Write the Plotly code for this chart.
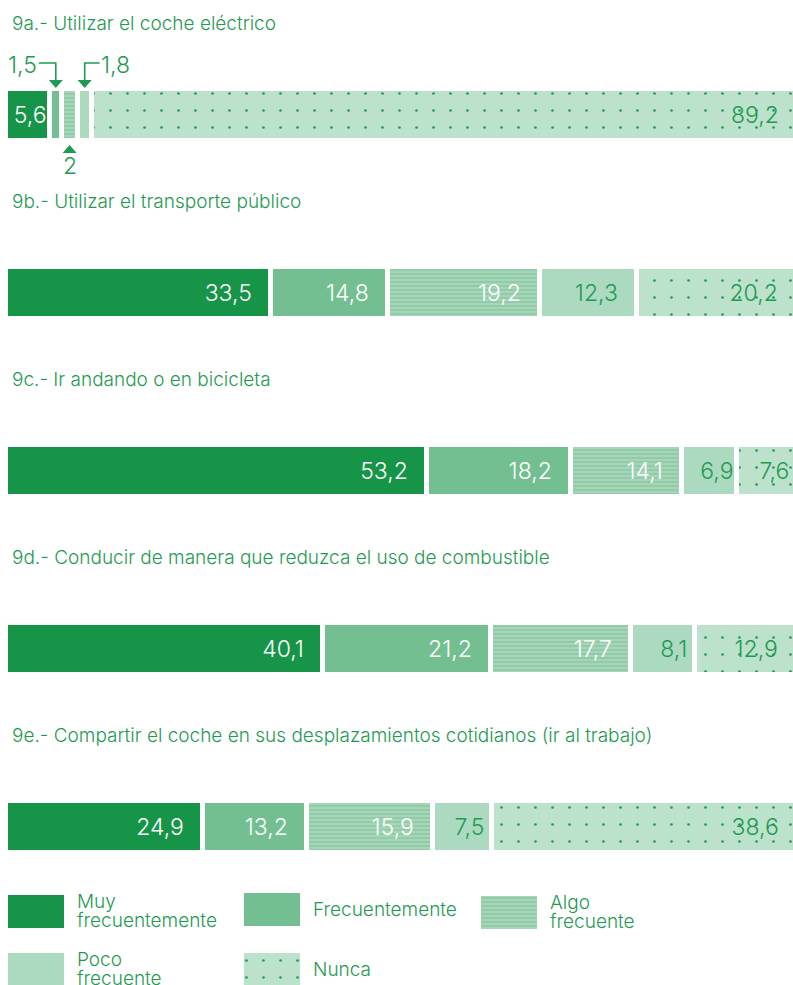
import plotly.graph_objects as go

# ---------------- data ----------------
categories = ["9a", "9b", "9c", "9d", "9e"]
titles = [
    "9a.- Utilizar el coche eléctrico",
    "9b.- Utilizar el transporte público",
    "9c.- Ir andando o en bicicleta",
    "9d.- Conducir de manera que reduzca el uso de combustible",
    "9e.- Compartir el coche en sus desplazamientos cotidianos (ir al trabajo)",
]
series_names = ["Muy frecuentemente", "Frecuentemente", "Algo frecuente", "Poco frecuente", "Nunca"]
muy = [5.6, 33.5, 53.2, 40.1, 24.9]
frecuente = [1.5, 14.8, 18.2, 21.2, 13.2]
algo = [2.0, 19.2, 14.1, 17.7, 15.9]
poco = [1.8, 12.3, 6.9, 8.1, 7.5]
nunca = [89.2, 20.2, 7.6, 12.9, 38.6]
series_values = [muy, frecuente, algo, poco, nunca]
# segments of bar 9a that are labelled with callouts instead of inside text
callout_series = ["Frecuentemente", "Algo frecuente", "Poco frecuente"]

# ---------------- style ----------------
FONT = "Inter"
WEIGHT = 300
TITLE_SIZE = 19
NUM_SIZE = 23
GREEN_TXT = "#1f9a52"
styles = {
    "Muy frecuentemente": dict(color="#169447", text="white"),
    "Frecuentemente": dict(color="#74bf91", text="white"),
    "Algo frecuente": dict(color="#a5d6b7", text="white",
                           pattern=dict(shape="-", bgcolor="#a5d6b7", fgcolor="#86c49f",
                                        size=4, solidity=0.3, fillmode="replace")),
    "Poco frecuente": dict(color="#acdac0", text=GREEN_TXT),
    "Nunca": dict(color="#bde2cc", text=GREEN_TXT,
                  pattern=dict(shape=".", bgcolor="#bde2cc", fgcolor="#22985a",
                               size=17, solidity=0.02, fillmode="replace")),
}


def fmt(v):
    return f"{v:g}".replace(".", ",")


def pad(v):
    # right padding inside the segment (wide segments get more breathing room)
    if v >= 10:
        return "\u2002\u2009"
    if v >= 7:
        return "\u2009"
    return ""


fig = go.Figure()

for name, vals in zip(series_names, series_values):
    st = styles[name]
    texts = []
    for cat, v in zip(categories, vals):
        if cat == "9a" and name in callout_series:
            texts.append("")
        else:
            texts.append(fmt(v) + pad(v))
    marker = dict(color=st["color"], line=dict(color="white", width=5))
    if "pattern" in st:
        marker["pattern"] = st["pattern"]
    fig.add_trace(go.Bar(
        y=categories, x=vals, orientation="h", name=name,
        marker=marker, width=0.292,
        text=texts, textposition="inside", insidetextanchor="end",
        textangle=0, constraintext="none",
        textfont=dict(family=FONT, size=NUM_SIZE, color=st["text"], weight=WEIGHT),
        hoverinfo="skip", showlegend=False,
    ))

# callouts for the small segments of bar 9a
starts = []
acc = 0.0
for vals in series_values:
    starts.append(acc)
    acc += vals[0]
centers = {n: starts[i] + series_values[i][0] / 2 for i, n in enumerate(series_names)}

line_style = dict(color=GREEN_TXT, width=1.6)
shapes = []
annots = []
num_font = dict(family=FONT, size=NUM_SIZE, color=GREEN_TXT, weight=WEIGHT)
# left callout (Frecuentemente)
c = centers["Frecuentemente"]
shapes.append(dict(type="path", xref="x", yref="y", xsizemode="pixel", ysizemode="pixel",
                   xanchor=c, yanchor="9a", path="M-17,52 H0 V35", line=line_style))
shapes.append(dict(type="path", xref="x", yref="y", xsizemode="pixel", ysizemode="pixel",
                   xanchor=c, yanchor="9a", path="M-7,35 L7,35 L0,27 Z",
                   fillcolor=GREEN_TXT, line=dict(width=0)))
annots.append(dict(x=c, y="9a", xref="x", yref="y", xshift=-17, yshift=50,
                   text=fmt(frecuente[0]), showarrow=False, xanchor="right", yanchor="middle",
                   font=num_font))
# right callout (Poco frecuente)
c = centers["Poco frecuente"]
shapes.append(dict(type="path", xref="x", yref="y", xsizemode="pixel", ysizemode="pixel",
                   xanchor=c, yanchor="9a", path="M15,52 H0 V35", line=line_style))
shapes.append(dict(type="path", xref="x", yref="y", xsizemode="pixel", ysizemode="pixel",
                   xanchor=c, yanchor="9a", path="M-7,35 L7,35 L0,27 Z",
                   fillcolor=GREEN_TXT, line=dict(width=0)))
annots.append(dict(x=c, y="9a", xref="x", yref="y", xshift=14, yshift=50,
                   text=fmt(poco[0]), showarrow=False, xanchor="left", yanchor="middle",
                   font=num_font))
# bottom callout (Algo frecuente)
c = centers["Algo frecuente"]
shapes.append(dict(type="path", xref="x", yref="y", xsizemode="pixel", ysizemode="pixel",
                   xanchor=c, yanchor="9a", path="M-7,-38 L7,-38 L0,-30 Z",
                   fillcolor=GREEN_TXT, line=dict(width=0)))
annots.append(dict(x=c, y="9a", xref="x", yref="y", yshift=-51,
                   text=fmt(algo[0]), showarrow=False, xanchor="center", yanchor="middle",
                   font=num_font))

# question titles
for cat, t in zip(categories, titles):
    annots.append(dict(x=0, y=cat, xref="paper", yref="y", xshift=10, yshift=91.5,
                       text=t, showarrow=False, xanchor="left", yanchor="middle",
                       font=dict(family=FONT, size=TITLE_SIZE, color=GREEN_TXT, weight=WEIGHT)))

# ---------------- custom legend (pixel-scaled helper axes) ----------------
legend_x0 = [8, 244, 481, 8, 244]
legend_yc = [911, 909, 912, 969, 969]
legend_lines = [["Muy", "frecuentemente"], ["Frecuentemente"], ["Algo", "frecuente"],
                ["Poco", "frecuente"], ["Nunca"]]
for name, x0, yc, lines in zip(series_names, legend_x0, legend_yc, legend_lines):
    st = styles[name]
    marker = dict(color=st["color"], line=dict(width=0))
    if "pattern" in st:
        marker["pattern"] = st["pattern"]
    fig.add_trace(go.Bar(x=[56], base=[x0], y=[yc], width=[33], orientation="h",
                         marker=marker, xaxis="x2", yaxis="y2", hoverinfo="skip",
                         showlegend=False))
    n = len(lines)
    for i, ln in enumerate(lines):
        annots.append(dict(x=x0 + 67, y=yc + (i - (n - 1) / 2) * 18.5, xref="x2", yref="y2",
                           text=ln, showarrow=False, xanchor="left", yanchor="middle",
                           font=dict(family=FONT, size=TITLE_SIZE, color=GREEN_TXT, weight=WEIGHT)))

fig.update_layout(
    width=793, height=985,
    margin=dict(l=0, r=0, t=0, b=0),
    paper_bgcolor="white", plot_bgcolor="rgba(0,0,0,0)",
    barmode="stack", bargap=0,
    xaxis=dict(range=[-0.7, 99.5], visible=False, domain=[0, 1], fixedrange=True),
    yaxis=dict(type="category", categoryorder="array", categoryarray=categories,
               range=[4.890, -0.6464], visible=False, domain=[0, 1], fixedrange=True),
    xaxis2=dict(range=[0, 793], visible=False, domain=[0, 1], anchor="y2", fixedrange=True),
    yaxis2=dict(range=[985, 0], visible=False, domain=[0, 1], anchor="x2", fixedrange=True),
    shapes=shapes,
    annotations=annots,
    showlegend=False,
)

fig.write_html(
    "out.html",
    config={"displayModeBar": False},
    post_script="document.body.style.margin='0';document.body.style.overflow='hidden';",
)
